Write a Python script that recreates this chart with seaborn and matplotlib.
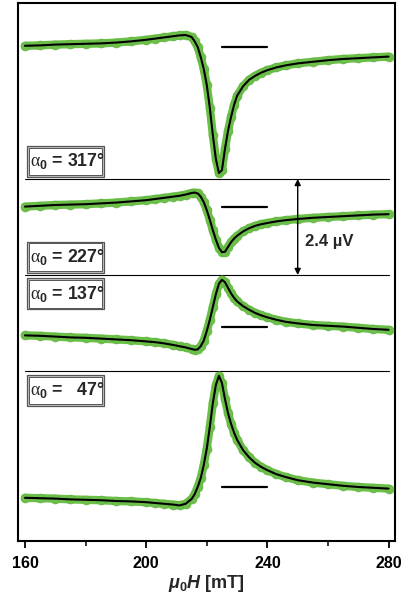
import numpy as np
import pandas as pd
import matplotlib
matplotlib.use("Agg")
import matplotlib.pyplot as plt
from matplotlib.patches import Rectangle
from matplotlib.ticker import FixedLocator
import seaborn as sns

# ---------------- data ----------------
field = [160, 165, 170, 175, 180, 185, 190, 195, 200, 203, 206, 209, 211, 213,
         215, 216, 217, 218, 219, 220, 221, 222, 223, 224, 225, 226, 227, 228,
         229, 230, 232, 234, 236, 238, 240, 243, 246, 250, 255, 260, 265, 270,
         275, 280]

v_317 = [0.03, 0.04, 0.06, 0.07, 0.08, 0.09, 0.11, 0.14, 0.18, 0.21, 0.24, 0.27,
         0.29, 0.30, 0.25, 0.14, 0.00, -0.25, -0.55, -0.95, -1.52, -2.20, -2.80,
         -3.15, -3.08, -2.55, -2.10, -1.75, -1.45, -1.22, -0.98, -0.82, -0.72,
         -0.64, -0.58, -0.51, -0.46, -0.41, -0.37, -0.33, -0.30, -0.28, -0.26,
         -0.24]

v_227 = [0.01, 0.03, 0.05, 0.06, 0.07, 0.09, 0.11, 0.14, 0.17, 0.20, 0.23, 0.26,
         0.28, 0.31, 0.35, 0.36, 0.34, 0.26, 0.12, -0.08, -0.32, -0.58, -0.82,
         -1.02, -1.13, -1.12, -1.00, -0.88, -0.79, -0.72, -0.61, -0.53, -0.47,
         -0.43, -0.40, -0.36, -0.33, -0.30, -0.27, -0.25, -0.23, -0.21, -0.19,
         -0.18]

v_137 = [-0.21, -0.22, -0.24, -0.26, -0.27, -0.29, -0.31, -0.33, -0.36, -0.38,
         -0.41, -0.45, -0.48, -0.51, -0.55, -0.57, -0.56, -0.48, -0.34, -0.10,
         0.18, 0.50, 0.82, 1.08, 1.18, 1.12, 0.98, 0.84, 0.73, 0.64, 0.52, 0.43,
         0.35, 0.29, 0.24, 0.18, 0.13, 0.09, 0.05, 0.03, 0.01, -0.02, -0.05,
         -0.07]

v_47 = [-0.27, -0.28, -0.29, -0.31, -0.32, -0.33, -0.35, -0.36, -0.38, -0.40,
        -0.42, -0.44, -0.46, -0.42, -0.30, -0.18, 0.00, 0.22, 0.55, 0.96, 1.50,
        2.10, 2.55, 2.78, 2.60, 2.20, 1.85, 1.58, 1.36, 1.18, 0.92, 0.74, 0.60,
        0.50, 0.42, 0.32, 0.25, 0.17, 0.11, 0.07, 0.03, 0.00, -0.02, -0.04]

angles = ["317", "227", "137", "47"]
series = [v_317, v_227, v_137, v_47]
offsets = [12.3, 8.3, 5.3, 1.3]          # vertical offset of each trace (µV)
separators = [9.0, 6.6, 4.2]
label_texts = [r"$\mathrm{\alpha}_\mathbf{0}$ = 317°",
               r"$\mathrm{\alpha}_\mathbf{0}$ = 227°",
               r"$\mathrm{\alpha}_\mathbf{0}$ = 137°",
               r"$\mathrm{\alpha}_\mathbf{0}$ =   47°"]
label_y = [9.44, 7.045, 6.125, 3.717]
scale_bar = 2.4
x_ticks = [160, 200, 240, 280]
x_minor = [180, 220, 260]

# ---------------- style ----------------
sns.set_theme(style="white")
plt.rcParams["font.family"] = ["Liberation Sans", "DejaVu Sans"]
plt.rcParams["mathtext.fontset"] = "custom"
plt.rcParams["mathtext.rm"] = "Liberation Serif"
plt.rcParams["mathtext.it"] = "Liberation Sans:italic:bold"
plt.rcParams["mathtext.bf"] = "Liberation Sans:bold"

green = "#6cc04a"

fig = plt.figure(figsize=(4.02, 5.97), dpi=100)
ax = fig.add_axes([0.0455, 0.0938, 0.937, 0.9012])

rows = []
for ang, vals, off in zip(angles, series, offsets):
    for h, v in zip(field, vals):
        rows.append({"H": h, "V": v + off, "angle": ang})
df = pd.DataFrame(rows)

for ang in angles:
    d = df[df["angle"] == ang]
    sns.lineplot(data=d, x="H", y="V", ax=ax, color=green, lw=6.0, sort=False,
                 solid_capstyle="round", solid_joinstyle="round", zorder=2)
    sns.scatterplot(data=d, x="H", y="V", ax=ax, color=green, s=42,
                    edgecolor="#5fb23e", linewidth=0.4, zorder=3)
    sns.lineplot(data=d, x="H", y="V", ax=ax, color="black", lw=1.5, sort=False,
                 zorder=4)

# zero markers
for off in offsets:
    ax.plot([225, 240], [off, off], color="black", lw=1.6, zorder=4)

# separators
for s in separators:
    ax.plot([160, 280], [s, s], color="black", lw=0.8, zorder=1)

# labels with double border boxes
bw, bh = 25.4, 0.775
for txt, yc in zip(label_texts, label_y):
    x0 = 160.7
    ax.add_patch(Rectangle((x0, yc - bh / 2), bw, bh, facecolor="#c4c4c4",
                           edgecolor="#555555", lw=0.9, zorder=5))
    ax.add_patch(Rectangle((x0 + 0.55, yc - bh / 2 + 0.045), bw - 1.1, bh - 0.09,
                           facecolor="white", edgecolor="#555555", lw=0.7, zorder=6))
    ax.text(x0 + 0.9, yc, txt, fontsize=12.8, fontweight="bold", ha="left",
            va="center", zorder=7)

# scale arrow
ax.annotate("", xy=(250, separators[0]), xytext=(250, separators[0] - scale_bar),
            arrowprops=dict(arrowstyle="<|-|>", color="black", lw=1.0,
                            mutation_scale=9, shrinkA=0, shrinkB=0), zorder=5)
ax.text(252.4, 7.43, "2.4 µV", fontsize=12, fontweight="bold", ha="left",
        va="center")

# axes
ax.set_xlim(157.8, 282.1)
ax.set_ylim(-0.05, 13.4)
ax.set_yticks([])
ax.set_ylabel("")
ax.xaxis.set_major_locator(FixedLocator(x_ticks))
ax.xaxis.set_minor_locator(FixedLocator(x_minor))
ax.tick_params(axis="x", which="major", direction="out", length=5, width=1.3,
               bottom=True, labelsize=11.5, pad=6, colors="black")
ax.tick_params(axis="x", which="minor", direction="out", length=3.5, width=1.3,
               bottom=True)
for lab in ax.get_xticklabels():
    lab.set_fontweight("bold")
ax.set_xlabel(r"$\mu_\mathbf{0}H$ [mT]", fontsize=13, fontweight="bold",
              labelpad=1)
for sp in ax.spines.values():
    sp.set_visible(True)
    sp.set_color("black")
    sp.set_linewidth(1.5)

fig.savefig("out.png", dpi=100)
